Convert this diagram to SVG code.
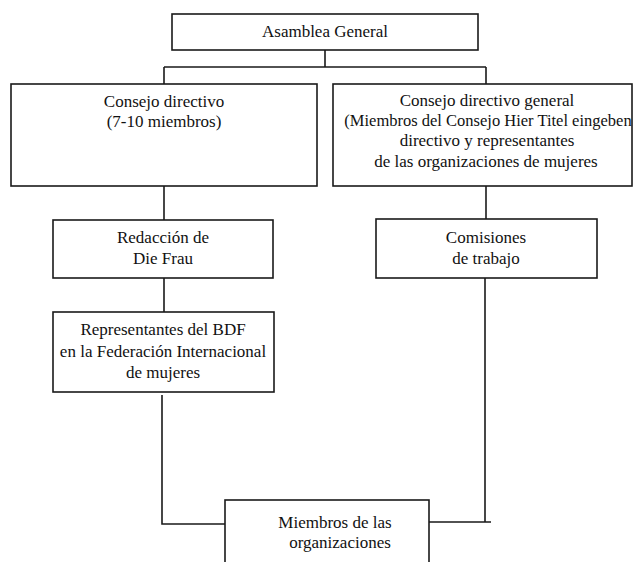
<svg xmlns="http://www.w3.org/2000/svg" width="633" height="562" viewBox="0 0 633 562">
<style>
.box{fill:#fff;stroke:#1a1a1a;stroke-width:1.6}
.ln{fill:none;stroke:#1a1a1a;stroke-width:1.6}
.t{font-family:'Times New Roman','Liberation Serif','DejaVu Serif',serif;font-size:17px;fill:#111;text-anchor:middle}
</style>
<rect width="633" height="562" fill="#fff"/>
<g id="connectors">
<path class="ln" d="M325,50 V67 M164,67 H486 M164,67 V84 M486,67 V84"/>
<path class="ln" d="M164,186 V220 M164,278 V312"/>
<path class="ln" d="M486,186 V219"/>
<path class="ln" d="M162,395 V524 H226"/>
<path class="ln" d="M485,278 V522 M429,522 H491"/>
</g>
<g id="asamblea">
<rect class="box" x="172" y="14" width="306" height="36"/>
<text class="t" x="325" y="37">Asamblea General</text>
</g>
<g id="consejo-directivo">
<rect class="box" x="11" y="84" width="306" height="102"/>
<text class="t" x="164" y="107">Consejo directivo</text>
<text class="t" x="164" y="127">(7-10 miembros)</text>
</g>
<g id="consejo-general">
<rect class="box" x="333" y="84" width="299" height="102"/>
<text class="t" x="487" y="106">Consejo directivo general</text>
<text class="t" x="488" y="126" style="font-size:16.5px">(Miembros del Consejo Hier Titel eingeben</text>
<text class="t" x="487" y="146">directivo y representantes</text>
<text class="t" x="486" y="167">de las organizaciones de mujeres</text>
</g>
<g id="redaccion">
<rect class="box" x="53" y="220" width="220" height="58"/>
<text class="t" x="163" y="243">Redacción de</text>
<text class="t" x="163" y="264">Die Frau</text>
</g>
<g id="comisiones">
<rect class="box" x="376" y="219" width="221" height="59"/>
<text class="t" x="486" y="243">Comisiones</text>
<text class="t" x="486" y="264">de trabajo</text>
</g>
<g id="representantes">
<rect class="box" x="53" y="312" width="221" height="80"/>
<text class="t" x="163" y="335">Representantes del BDF</text>
<text class="t" x="163" y="357">en la Federación Internacional</text>
<text class="t" x="163" y="378">de mujeres</text>
</g>
<g id="miembros">
<rect class="box" x="225" y="500" width="204" height="70"/>
<text class="t" x="335" y="528">Miembros de las</text>
<text class="t" x="340" y="548">organizaciones</text>
</g>
</svg>
